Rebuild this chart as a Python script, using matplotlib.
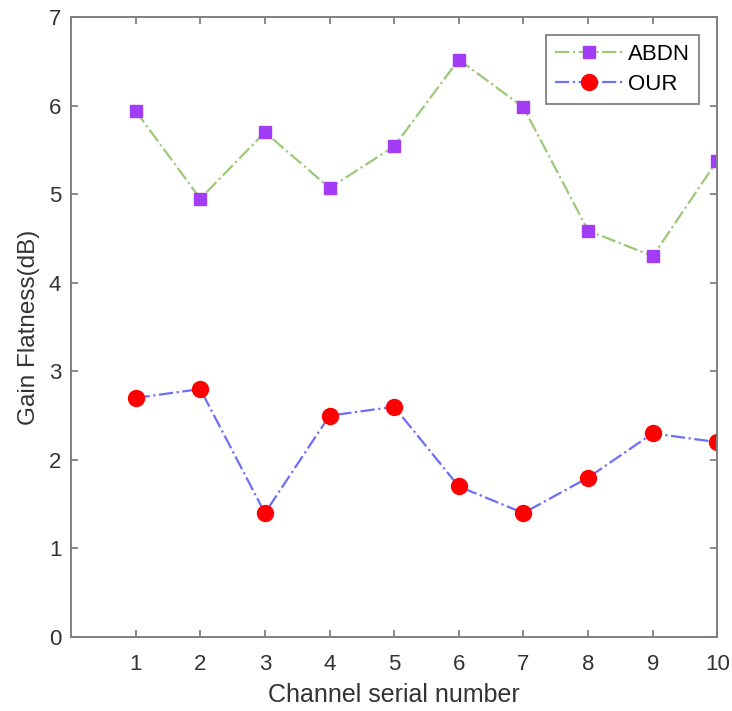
import matplotlib
matplotlib.use('Agg')
import matplotlib.pyplot as plt

plt.rcParams['font.family'] = ['Liberation Sans', 'DejaVu Sans']

channels = [1, 2, 3, 4, 5, 6, 7, 8, 9, 10]
abdn = [5.94, 4.95, 5.70, 5.07, 5.54, 6.52, 5.98, 4.59, 4.30, 5.38]
our = [2.70, 2.80, 1.40, 2.50, 2.60, 1.70, 1.40, 1.80, 2.30, 2.20]

fig = plt.figure(figsize=(7.32, 7.11), dpi=100)
ax = fig.add_axes([0.097, 0.104, 0.883, 0.872])

ax.plot(channels, abdn, linestyle='-.', color='#9cc878', lw=1.6,
        marker='s', markersize=9, markerfacecolor='#a33cf5',
        markeredgecolor='#a33cf5', label='ABDN')
ax.plot(channels, our, linestyle='-.', color='#6e6ef8', lw=1.6,
        marker='o', markersize=11.5, markerfacecolor='red',
        markeredgecolor='red', label='OUR')

ax.set_xlim(0, 10)
ax.set_ylim(0, 7)
ax.set_xticks(channels)
ax.set_yticks(range(8))
ax.tick_params(direction='in', top=True, right=True, labelsize=16,
               color='#777777', labelcolor='#333333', length=5, width=1.2)
ax.tick_params(axis='x', pad=12)
ax.tick_params(axis='y', pad=7)
for s in ax.spines.values():
    s.set_color('#808080')
    s.set_linewidth(1.4)

ax.set_xlabel('Channel serial number', fontsize=18, color='#333333', labelpad=6)
ax.set_ylabel('Gain Flatness(dB)', fontsize=17.5, color='#333333', labelpad=6)

leg = ax.legend(loc='upper right', fontsize=16, fancybox=False,
                edgecolor='#555555', handlelength=3.1, borderpad=0.4,
                labelspacing=0.42, handletextpad=0.2, borderaxespad=0,
                bbox_to_anchor=(0.972, 0.971))
leg.get_frame().set_linewidth(1.2)

fig.savefig('out.png', dpi=100)
